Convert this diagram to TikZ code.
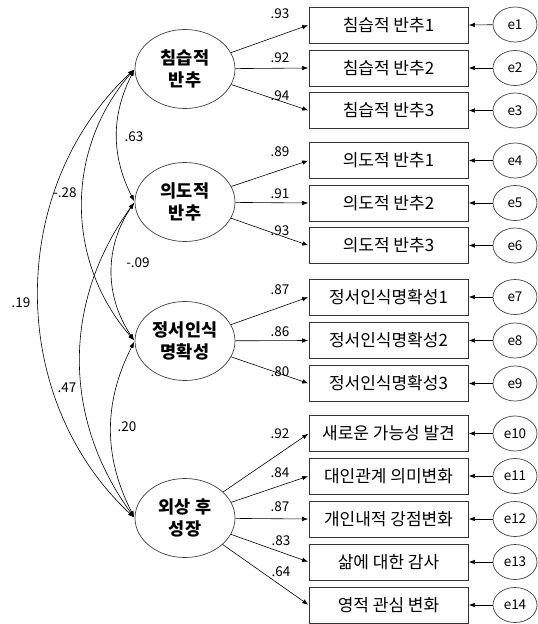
\documentclass[tikz,border=0pt]{standalone}
\usepackage{fontspec}
\setmainfont{Noto Sans CJK KR}
\usetikzlibrary{shapes.geometric,arrows.meta}
\begin{document}
\begin{tikzpicture}[x=1pt,y=-1pt,
  latent/.style={ellipse, draw=black!75, line width=0.7pt, minimum width=100pt, minimum height=79pt, inner sep=0pt, align=center, font=\fontsize{17.5}{22}\selectfont\bfseries},
  obs/.style={rectangle, draw=black!80, line width=0.7pt, minimum width=159pt, minimum height=36pt, inner sep=0pt, font=\fontsize{17}{19}\selectfont},
  err/.style={ellipse, draw=black!75, line width=0.7pt, minimum width=44pt, minimum height=35pt, inner sep=0pt, font=\fontsize{13.5}{15}\selectfont},
  load/.style={-{Latex[length=6pt,width=4.5pt]}, line width=0.6pt, shorten >=0.5pt},
  cov/.style={{Latex[length=6pt,width=4.5pt]}-{Latex[length=6pt,width=4.5pt]}, line width=0.6pt, shorten >=1pt, shorten <=1pt},
  num/.style={inner sep=0pt, font=\fontsize{13.5}{15}\selectfont}]
\useasboundingbox (0,0) rectangle (538,624);

% latent variables
\node[latent] (L1) at (185,69) {침습적\\반추};
\node[latent] (L2) at (185,202) {의도적\\반추};
\node[latent] (L3) at (185,341) {정서인식\\명확성};
\node[latent] (L4) at (185,518) {외상 후\\성장};

% observed variables
\node[obs] (b1) at (388.5,25) {침습적 반추1};
\node[obs] (b2) at (388.5,68) {침습적 반추2};
\node[obs] (b3) at (388.5,110.5) {침습적 반추3};
\node[obs] (b4) at (388.5,160.5) {의도적 반추1};
\node[obs] (b5) at (388.5,203) {의도적 반추2};
\node[obs] (b6) at (388.5,245.5) {의도적 반추3};
\node[obs] (b7) at (388.5,297) {정서인식명확성1};
\node[obs] (b8) at (388.5,340.5) {정서인식명확성2};
\node[obs] (b9) at (388.5,383.5) {정서인식명확성3};
\node[obs] (b10) at (388.5,433.5) {새로운 가능성 발견};
\node[obs] (b11) at (388.5,476) {대인관계 의미변화};
\node[obs] (b12) at (388.5,519) {개인내적 강점변화};
\node[obs] (b13) at (388.5,562) {삶에 대한 감사};
\node[obs] (b14) at (388.5,605) {영적 관심 변화};

% error terms
\node[err] (e1) at (515,24.5) {e1};
\node[err] (e2) at (515,68) {e2};
\node[err] (e3) at (515,110.5) {e3};
\node[err] (e4) at (515,160.5) {e4};
\node[err] (e5) at (515,203) {e5};
\node[err] (e6) at (515,245.5) {e6};
\node[err] (e7) at (515,297) {e7};
\node[err] (e8) at (515,340.5) {e8};
\node[err] (e9) at (515,383.5) {e9};
\node[err] (e10) at (515,433.5) {e10};
\node[err] (e11) at (515,476) {e11};
\node[err] (e12) at (515,519) {e12};
\node[err] (e13) at (515,562) {e13};
\node[err] (e14) at (515,605) {e14};

\foreach \i in {1,...,14} {
  \draw[load] (e\i) -- (b\i.east);
}

% loadings
\draw[load] (L1) -- (b1.west);
\draw[load] (L1) -- (b2.west);
\draw[load] (L1) -- (b3.west);
\draw[load] (L2) -- (b4.west);
\draw[load] (L2) -- (b5.west);
\draw[load] (L2) -- (b6.west);
\draw[load] (L3) -- (b7.west);
\draw[load] (L3) -- (b8.west);
\draw[load] (L3) -- (b9.west);
\draw[load] (L4) -- (b10.west);
\draw[load] (L4) -- (b11.west);
\draw[load] (L4) -- (b12.west);
\draw[load] (L4) -- (b13.west);
\draw[load] (L4) -- (b14.west);

% loading values
\node[num] (n1) at (280,14) {.93};
\node[num] (n2) at (280,58) {.92};
\node[num] (n3) at (280,96) {.94};
\node[num] (n4) at (280,152) {.89};
\node[num] (n5) at (280,194) {.91};
\node[num] (n6) at (280,231) {.93};
\node[num] (n7) at (280,290) {.87};
\node[num] (n8) at (280,332) {.86};
\node[num] (n9) at (280,372) {.80};
\node[num] (n10) at (280,434) {.92};
\node[num] (n11) at (280,473) {.84};
\node[num] (n12) at (280,507) {.87};
\node[num] (n13) at (281,541) {.83};
\node[num] (n14) at (281,572) {.64};

% covariances
\draw[cov] (L1.west) to[bend right=27] (L2.west);
\draw[cov] (L1.west) to[bend right=41] (L3.west);
\draw[cov] (L1.west) to[bend right=47] (L4.west);
\draw[cov] (L2.west) to[bend right=34] (L3.west);
\draw[cov] (L2.west) to[bend right=36] (L4.west);
\draw[cov] (L3.west) to[bend right=27] (L4.west);

\node[num] (c12) at (134,137) {.63};
\node[num] (c13) at (65,193) {-.28};
\node[num] (c14) at (21,303) {.19};
\node[num] (c23) at (138,263) {-.09};
\node[num] (c24) at (67,388) {.47};
\node[num] (c34) at (127,427) {.20};
\end{tikzpicture}
\end{document}
